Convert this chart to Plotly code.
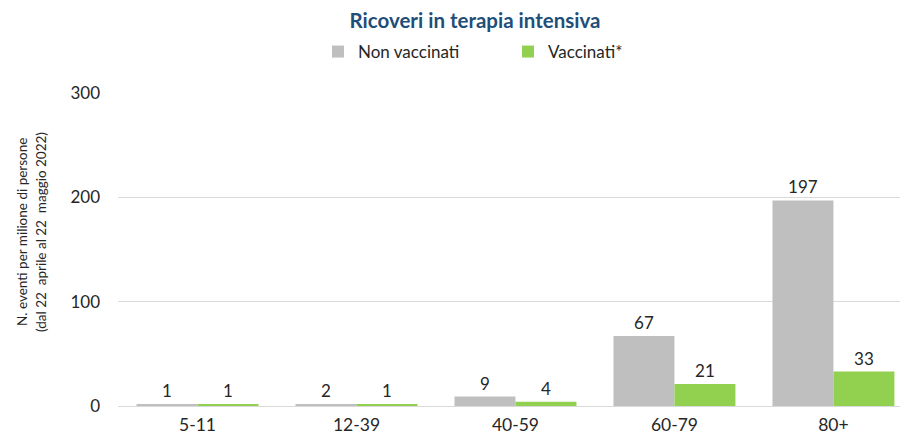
import plotly.graph_objects as go

categories = ["5-11", "12-39", "40-59", "60-79", "80+"]
non_vaccinati = [1, 2, 9, 67, 197]
vaccinati = [1, 1, 4, 21, 33]
y_ticks = [0, 100, 200, 300]

FONT = "Lato"
TXT = "#262626"
W, H = 900, 435  # page body has an 8px margin
fig = go.Figure()
fig.add_trace(go.Bar(
    x=categories, y=non_vaccinati, name="Non vaccinati",
    marker=dict(color="#BFBFBF", line=dict(width=0)),
    text=[str(v) for v in non_vaccinati], textposition="outside",
    textfont=dict(family=FONT, size=17, color=TXT), cliponaxis=False,
))
fig.add_trace(go.Bar(
    x=categories, y=vaccinati, name="Vaccinati*",
    marker=dict(color="#92D050", line=dict(width=0)),
    text=[str(v) for v in vaccinati], textposition="outside",
    textfont=dict(family=FONT, size=17, color=TXT), cliponaxis=False,
))

fig.update_layout(
    width=W, height=H,
    margin=dict(l=110, r=0, t=85, b=37, autoexpand=False),
    paper_bgcolor="white", plot_bgcolor="white",
    barmode="group", bargap=0.233, bargroupgap=0,
    font=dict(family=FONT, color=TXT),
    title=dict(text="<b>Ricoveri in terapia intensiva</b>", x=467 / W, xref="container",
               xanchor="center", y=1 - 12.5 / H, yref="container", yanchor="middle",
               font=dict(family=FONT, size=20.5, color="#1F4E79")),
    legend=dict(orientation="h", x=310 / W, xref="container", xanchor="left",
                y=1 - 44 / H, yref="container", yanchor="middle",
                font=dict(family=FONT, size=17, color=TXT),
                entrywidth=145, itemwidth=30, traceorder="normal"),
    showlegend=True,
    xaxis=dict(type="category", range=[-0.5, 4.469], autorange=False, automargin=False,
               showline=True, linecolor="#D9D9D9", linewidth=1,
               ticks="", tickfont=dict(family=FONT, size=17.5, color=TXT),
               ticklabelstandoff=3, showgrid=False),
    yaxis=dict(range=[0, 300], autorange=False, automargin=False, tickvals=y_ticks,
               showgrid=True, gridcolor="#D9D9D9", gridwidth=1,
               zeroline=False, showline=False, ticks="",
               tickfont=dict(family=FONT, size=17, color=TXT),
               ticklabelstandoff=17),
)

for line, xpx in [("N. eventi per milione di persone", 14),
                  ("(dal 22  aprile al 22  maggio 2022)", 33)]:
    fig.add_annotation(
        text=line, xref="paper", yref="paper", x=(xpx - 110) / 790, y=0.556,
        xanchor="center", yanchor="middle", textangle=-90, showarrow=False,
        font=dict(family=FONT, size=13.5, color=TXT),
    )

fig.write_html("out.html")
